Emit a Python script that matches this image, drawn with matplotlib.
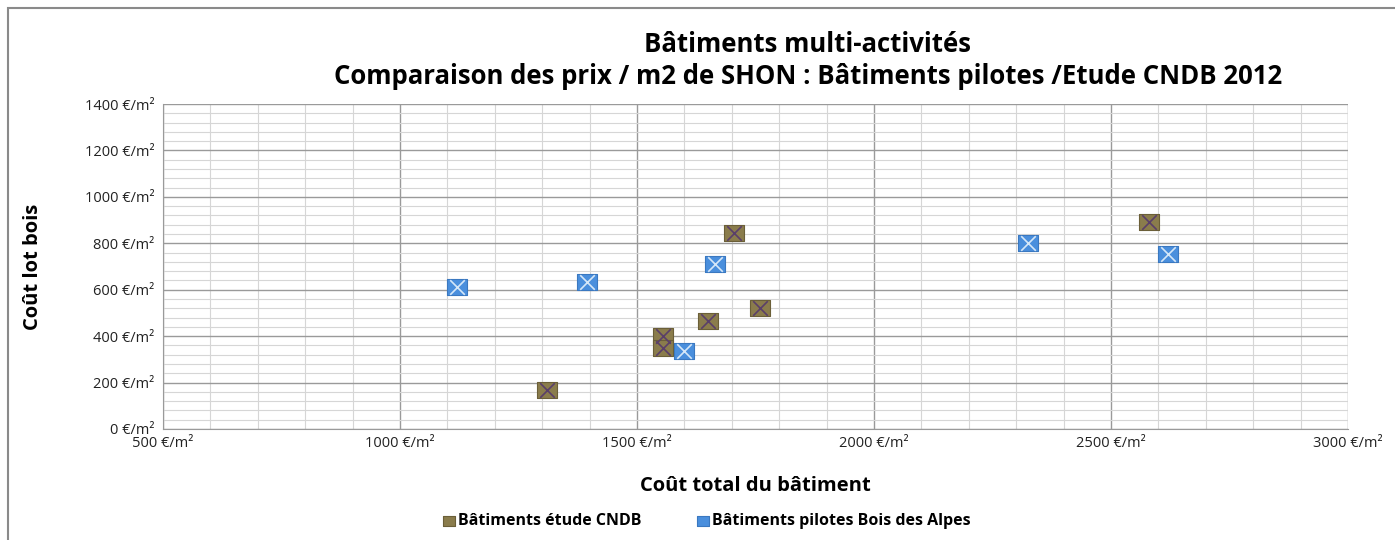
import numpy as np
import matplotlib.pyplot as plt
from matplotlib.ticker import MultipleLocator, FuncFormatter
from matplotlib.patches import Rectangle

plt.rcParams['font.family'] = ['Open Sans', 'DejaVu Sans']

# Bâtiments étude CNDB
cndb_x = [1705, 2580, 1760, 1650, 1555, 1555, 1310]
cndb_y = [845, 890, 520, 465, 400, 350, 170]
# Bâtiments pilotes Bois des Alpes
alpes_x = [1120, 1395, 1665, 1600, 2325, 2620]
alpes_y = [610, 635, 710, 335, 800, 755]

brown = '#8a7c4c'
blue = '#4a8fdd'

fig = plt.figure(figsize=(13.95, 5.4), dpi=100)
ax = fig.add_axes([0.1168, 0.2056, 0.8495, 0.6018])

# rectangle a bit wider than tall, like the excel marker
rect = [(-1.1, -0.9), (1.1, -0.9), (1.1, 0.9), (-1.1, 0.9), (-1.1, -0.9)]
ax.scatter(cndb_x, cndb_y, marker=rect, s=190, c=brown, edgecolors='#6b5f38',
           linewidths=0.8, zorder=3, label='Bâtiments étude CNDB')
ax.scatter(cndb_x, cndb_y, marker='x', s=110, c='#5a3f6a', linewidths=1.2, zorder=4)
ax.scatter(alpes_x, alpes_y, marker=rect, s=190, c=blue, edgecolors='#3a78c0',
           linewidths=0.8, zorder=3, label='Bâtiments pilotes Bois des Alpes')
ax.scatter(alpes_x, alpes_y, marker='x', s=110, c='#d5e7f8', linewidths=1.2, zorder=4)

ax.set_xlim(500, 3000)
ax.set_ylim(0, 1400)
ax.xaxis.set_major_locator(MultipleLocator(500))
ax.xaxis.set_minor_locator(MultipleLocator(100))
ax.yaxis.set_major_locator(MultipleLocator(200))
ax.yaxis.set_minor_locator(MultipleLocator(40))
fmt = FuncFormatter(lambda v, p: '%d €/m²' % v)
ax.xaxis.set_major_formatter(fmt)
ax.yaxis.set_major_formatter(fmt)
ax.grid(True, which='major', color='#9a9a9a', linewidth=1.0)
ax.grid(True, which='minor', color='#d6d6d6', linewidth=0.8)
ax.set_axisbelow(True)
ax.tick_params(which='both', length=0, labelsize=10.5, colors='#222222')
ax.tick_params(axis='y', pad=6)
ax.tick_params(axis='x', pad=5)
for s in ['top', 'right']:
    ax.spines[s].set_visible(False)
ax.spines['left'].set_color('#9a9a9a')
ax.spines['bottom'].set_color('#9a9a9a')

ax.set_xlabel('Coût total du bâtiment', fontsize=14.5, fontweight='bold', labelpad=18)
ax.set_ylabel('Coût lot bois', fontsize=14.5, fontweight='bold', labelpad=30)

fig.text(0.579, 0.918, 'Bâtiments multi-activités', ha='center', va='center',
         fontsize=18.5, fontweight='bold')
fig.text(0.579, 0.858, 'Comparaison des prix / m2 de SHON : Bâtiments pilotes /Etude CNDB 2012',
         ha='center', va='center', fontsize=18.5, fontweight='bold')

leg = fig.legend(loc='center', bbox_to_anchor=(0.506, 0.035), ncol=2, frameon=False,
                 fontsize=11.5, markerscale=0.6, handletextpad=0.1, columnspacing=3.3,
                 handlelength=1.0)
for t in leg.get_texts():
    t.set_fontweight('bold')

fig.patches.append(Rectangle((0.006, -0.01), 1.1, 0.995, transform=fig.transFigure,
                             fill=False, edgecolor='#8a8a8a', linewidth=1.5))

fig.savefig('out.png', dpi=100)
